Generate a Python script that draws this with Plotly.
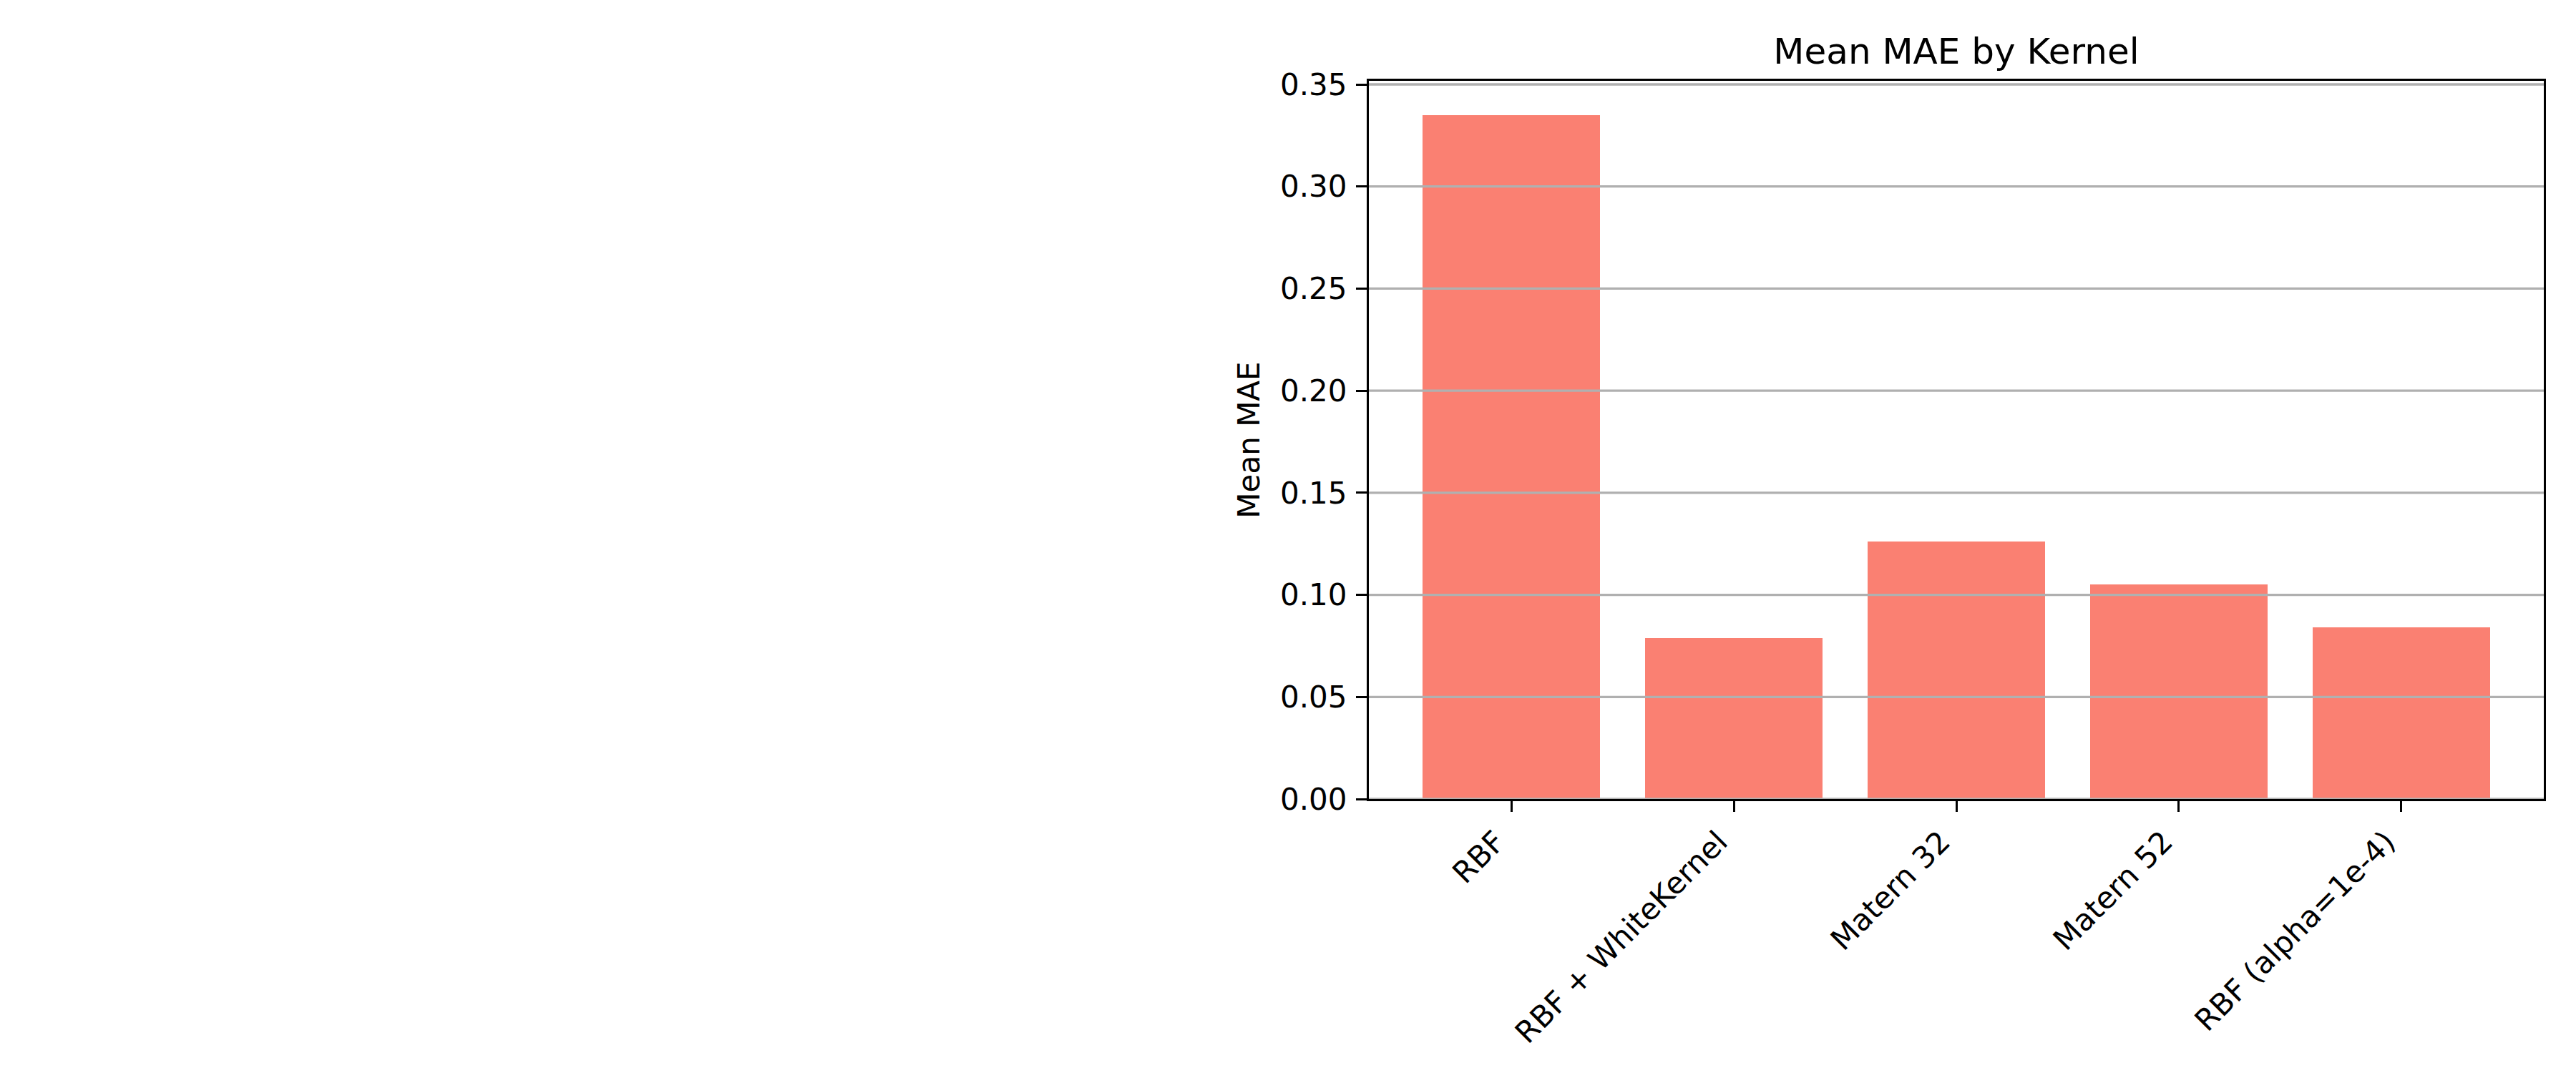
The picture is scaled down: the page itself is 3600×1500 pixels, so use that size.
import plotly.graph_objects as go

# mean MAE per kernel
kernels = ['RBF', 'RBF + WhiteKernel', 'Matern 32', 'Matern 52', 'RBF (alpha=1e-4)']
mean_mae = [0.335, 0.079, 0.126, 0.105, 0.084]
y_ticks = [0.00, 0.05, 0.10, 0.15, 0.20, 0.25, 0.30, 0.35]

LW = 3.3  # 0.8pt at 300 dpi
FONT = 'DejaVu Sans'

fig = go.Figure()
fig.add_trace(go.Bar(
    x=list(range(len(kernels))),
    y=mean_mae,
    width=0.8,
    marker=dict(color='#FA8072', line=dict(width=0)),
    showlegend=False,
))

# matplotlib draws the grid over the bars, so use shapes above traces
for v in y_ticks:
    fig.add_shape(type='line', xref='paper', x0=0, x1=1, yref='y', y0=v, y1=v,
                  line=dict(color='#b0b0b0', width=LW), layer='above')

# page body has an 8px margin, so pull the margins back by that much
fig.update_layout(
    width=3600, height=1500,
    margin=dict(l=1905, r=53, t=105, b=391, autoexpand=False),
    plot_bgcolor='white', paper_bgcolor='white',
    font=dict(family=FONT, size=42, color='black'),
    title=dict(text='Mean MAE by Kernel', font=dict(size=50, family=FONT),
               x=0.5, xref='paper', xanchor='center',
               y=1, yref='paper', yanchor='bottom', pad=dict(b=24)),
    bargap=0,
)
fig.update_xaxes(
    range=[-0.64, 4.64],
    tickvals=list(range(len(kernels))), ticktext=kernels,
    tickangle=-45,
    ticks='outside', ticklen=15, tickwidth=LW, tickcolor='black',
    showline=True, linecolor='black', linewidth=LW, mirror=True,
    showgrid=False, zeroline=False,
    tickfont=dict(size=42, family=FONT),
    ticklabelshift=-21,
    layer='above traces',
)
fig.update_yaxes(
    range=[0, 0.35175],
    tickvals=y_ticks, ticktext=['%.2f' % v for v in y_ticks],
    ticks='outside', ticklen=15, tickwidth=LW, tickcolor='black',
    showline=True, linecolor='black', linewidth=LW, mirror=True,
    showgrid=False, zeroline=False,
    tickfont=dict(size=42, family=FONT),
    ticklabelstandoff=4,
    title=dict(text='Mean MAE', font=dict(size=42, family=FONT), standoff=16),
    layer='above traces',
)

fig.write_html('out.html')
